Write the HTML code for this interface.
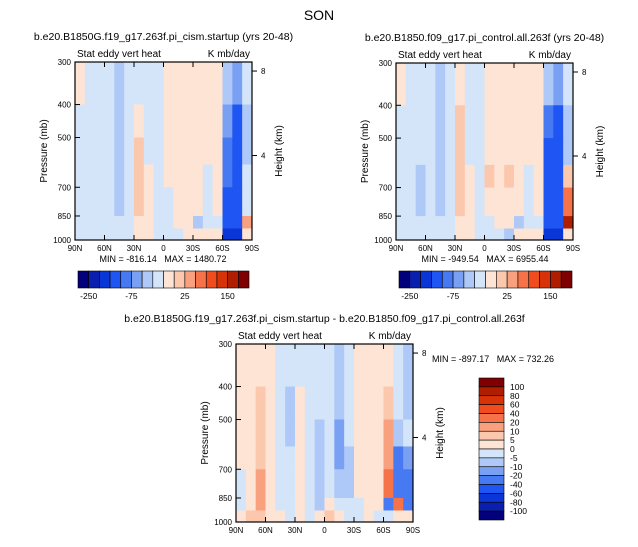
<!DOCTYPE html>
<html><head><meta charset="utf-8"><style>
body{margin:0;background:#fff;}
svg text{font-family:"Liberation Sans",sans-serif;fill:#000;white-space:pre;}
</style></head><body>
<svg id="fig" width="638" height="542" xmlns="http://www.w3.org/2000/svg"></svg>
<script>
// ---- data ----
const latLabels = ["90N","60N","30N","0","30S","60S","90S"];
const pressureTicks = [300,400,500,700,850,1000];
const heightTicks = [8,4];
const rowEdges = [300,400,500,600,700,850,925,1000];
const levelsAbs = [-250,-200,-150,-100,-75,-50,-25,0,10,25,50,75,100,150,200];
const levelsAbsLabels = ["-250","-75","25","150"];
const levelsDiff = [-100,-80,-60,-40,-20,-10,-5,0,5,10,20,40,60,80,100];
const levelsDiffLabels = ["100","80","60","40","20","10","5","0","-5","-10","-20","-40","-60","-80","-100"];
const palette = ["#02007a","#0a1fb0","#0a36d8","#1f55f2","#4779f2","#7aa0f4","#aec8f8","#d4e5f9","#fde4d4","#fcc8ad","#f9a07e","#f67248","#f04c1e","#d83208","#b01e02","#7f0000"];
const field1 = [
[5,-10,-10,-10,-30,-10,-10,-10,-10,5,5,5,5,5,5,-30,-60,-10],
[-10,-10,-10,-10,-30,-10,5,-10,-10,5,5,5,5,5,5,-60,-110,-30],
[-10,-10,-10,-10,-30,-10,15,-10,-10,5,5,5,5,5,5,-80,-120,-30],
[-10,-10,-10,-10,-30,-10,15,5,-10,5,5,5,5,-10,5,-90,-120,-10],
[-10,-10,-10,-10,-30,-10,15,5,-10,-10,5,5,5,-10,5,-110,-130,-10],
[-10,-10,-10,-10,-10,-10,5,5,-10,-10,5,5,-30,-10,-10,-120,-140,40],
[-10,-10,-10,-10,-10,-10,5,5,-10,-10,-10,5,5,5,5,-160,-180,5]];
const field2 = [
[5,-10,-10,-10,-30,-10,5,-10,-10,5,5,5,5,5,5,-40,-70,-10],
[-10,-10,-10,-10,-30,-10,15,-10,-10,5,5,5,5,5,5,-80,-110,-30],
[-10,-10,-10,-10,-30,-10,15,-10,-10,5,5,5,5,5,5,-110,-130,-30],
[-10,-10,-30,-10,-30,-10,15,5,-10,15,5,15,5,-10,5,-110,-130,15],
[-10,-10,-30,-10,-30,-10,15,5,-10,5,5,5,5,-10,5,-120,-140,60],
[-10,-10,-10,-10,-10,-10,5,5,-10,-10,5,5,-30,-10,-10,-130,-140,160],
[-10,-10,-10,-10,-10,-10,5,5,-10,-10,-10,-30,5,5,5,-180,-200,5]];
const field3 = [
[3,3,3,3,-3,-3,-3,-3,-3,-3,-7,-3,3,3,3,3,-3,-7],
[3,3,7,3,-3,-7,3,-3,-3,-3,-7,-3,3,3,3,7,-3,-7],
[3,3,7,3,-3,-7,3,-3,-7,-3,-15,-3,3,3,3,15,-7,-3],
[3,3,7,3,-3,-3,3,-3,-7,-3,-15,-7,3,3,3,15,-30,-15],
[-3,3,15,3,-3,-3,3,-3,-7,-3,-7,-7,3,3,3,30,-30,-30],
[-3,3,15,3,-3,-3,3,-3,-7,3,-3,-3,-3,3,3,-30,30,-30],
[3,7,7,3,3,-3,3,-3,3,7,3,-3,-3,3,-3,-3,3,3]];

const svg = document.getElementById('fig');
const NS = "http://www.w3.org/2000/svg";
function mk(tag, attrs, parent){const e=document.createElementNS(NS,tag);for(const k in attrs)e.setAttribute(k,attrs[k]);(parent||svg).appendChild(e);return e;}
function txt(x,y,s,size,anchor,parent){const t=mk('text',{x:x,y:y,'font-size':size,'text-anchor':anchor||'middle'},parent);t.textContent=s;return t;}
function colorIdx(v,lv){let i=0;while(i<lv.length&&v>=lv[i])i++;return i;}

function panel(px,py,w,h,field,lv,name,title){
  const g=mk('g',{});
  
  
  const yP=p=>py+h*Math.log(p/300)/Math.log(1000/300);
  const xL=c=>px+w*c/field[0].length;
  for(let r=0;r<field.length;r++){for(let c=0;c<field[r].length;c++){
    const y0=yP(rowEdges[r]),y1=yP(rowEdges[r+1]);
    const cell=mk('rect',{x:xL(c),y:y0,width:xL(c+1)-xL(c)+0.5,height:y1-y0+0.5,fill:palette[colorIdx(field[r][c],lv)]},g);
    
    
  }}
  mk('rect',{x:px,y:py,width:w,height:h,fill:'none',stroke:'#000','stroke-width':1.2},g);
  latLabels.forEach((l,i)=>{const x=px+w*i/6;
    mk('line',{x1:x,y1:py+h,x2:x,y2:py+h-5,stroke:'#000'},g);
    mk('line',{x1:x,y1:py,x2:x,y2:py+5,stroke:'#000'},g);
    const t=txt(x,py+h+11,l,8,'middle',g);});
  pressureTicks.forEach(p=>{const y=yP(p);
    mk('line',{x1:px,y1:y,x2:px+5,y2:y,stroke:'#000'},g);
    const t=txt(px-4,y+3,String(p),8,'end',g);});
  heightTicks.forEach(k=>{const p=1000*Math.exp(-k/7);const y=yP(p);
    mk('line',{x1:px+w,y1:y,x2:px+w+5,y2:y,stroke:'#000'},g);
    const t=txt(px+w+9,y+3,String(k),8,'start',g);});
  let t=txt(px+2,py-5,'Stat eddy vert heat',10,'start',g);
  t=txt(px+w-2,py-5,'K mb/day',10,'end',g);
  t=txt(0,0,'Pressure (mb)',10,'middle',g);t.setAttribute('transform',`translate(${px-28},${py+h/2}) rotate(-90)`);
  t=txt(0,0,'Height (km)',10,'middle',g);t.setAttribute('transform',`translate(${px+w+30},${py+h/2}) rotate(-90)`);
  t=txt(px+w/2,py-22,title,10.5,'middle',g);
  return g;
}
function hbar(x,y,w,h,labels){
  const g=mk('g',{});
  
  
  const bw=w/16;
  palette.forEach((c,i)=>{const r=mk('rect',{x:x+i*bw,y:y,width:bw,height:h,fill:c,stroke:'#000','stroke-width':0.6},g);});
  const idx=[1,5,10,14];
  labels.forEach((l,i)=>{const t=txt(x+idx[i]*bw,y+h+11,l,8.5,'middle',g);});
}
function vbar(x,y,w,h,labels){
  const g=mk('g',{});
  
  
  const bh=h/16;
  palette.slice().reverse().forEach((c,i)=>{const r=mk('rect',{x:x,y:y+i*bh,width:w,height:bh,fill:c,stroke:'#000','stroke-width':0.6},g);});
  labels.forEach((l,i)=>{const t=txt(x+w+6,y+(i+1)*bh+3,l,8.5,'start',g);});
}
let t=txt(319,20,'SON',14,'middle');
panel(75,62,177,178,field1,levelsAbs,'panel-cism-startup','b.e20.B1850G.f19_g17.263f.pi_cism.startup (yrs 20-48)');
t=txt(163,262,'MIN = -816.14   MAX = 1480.72',9,'middle');
hbar(78,271,171,17,levelsAbsLabels);
panel(396,63,177,177,field2,levelsAbs,'panel-control','b.e20.B1850.f09_g17.pi_control.all.263f (yrs 20-48)');
t=txt(485,262,'MIN = -949.54   MAX = 6955.44',9,'middle');
hbar(399,271,173,17,levelsAbsLabels);
panel(236,344,177,178,field3,levelsDiff,'panel-difference','b.e20.B1850G.f19_g17.263f.pi_cism.startup - b.e20.B1850.f09_g17.pi_control.all.263f');
t=txt(432,362,'MIN = -897.17   MAX = 732.26',9,'start');
vbar(479,378,25,142,levelsDiffLabels);
</script>
</body></html>
